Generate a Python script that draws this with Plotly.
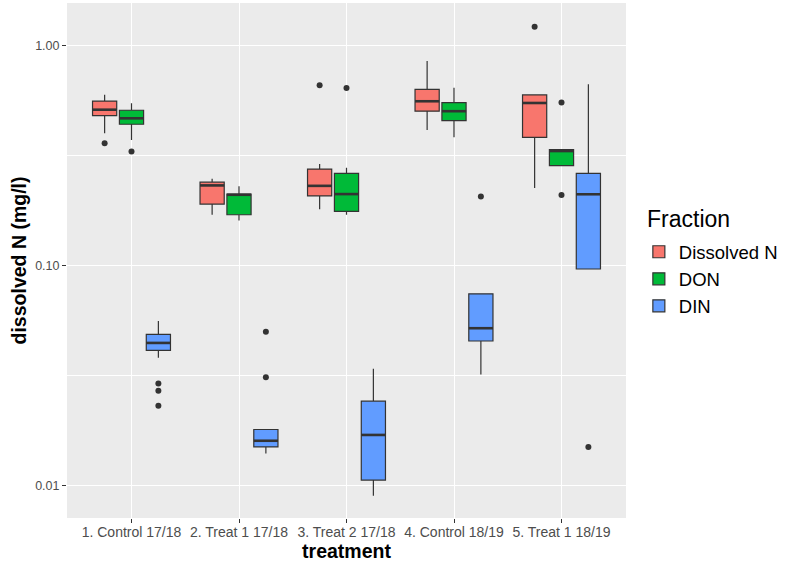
import plotly.graph_objects as go

categories = ["1. Control 17/18", "2. Treat 1 17/18", "3. Treat 2 17/18",
              "4. Control 18/19", "5. Treat 1 18/19"]
fractions = ["Dissolved N", "DON", "DIN"]
colors = ["#F8766D", "#00BA38", "#619CFF"]

# Box statistics per fraction, one value per treatment (mg/l)
dn_low = [0.399, 0.170, 0.180, 0.412, 0.225]
dn_q1 = [0.479, 0.190, 0.207, 0.502, 0.382]
dn_med = [0.510, 0.231, 0.230, 0.557, 0.547]
dn_q3 = [0.558, 0.239, 0.274, 0.631, 0.595]
dn_high = [0.597, 0.248, 0.289, 0.849, 0.595]

don_low = [0.371, 0.160, 0.170, 0.382, 0.284]
don_q1 = [0.438, 0.170, 0.176, 0.455, 0.284]
don_med = [0.466, 0.2095, 0.211, 0.502, 0.331]
don_q3 = [0.507, 0.211, 0.262, 0.549, 0.336]
don_high = [0.545, 0.229, 0.278, 0.642, 0.336]

din_low = [0.0381, 0.0140, 0.0090, 0.0320, 0.0964]
din_q1 = [0.0412, 0.0150, 0.0106, 0.0454, 0.0964]
din_med = [0.0445, 0.0160, 0.0170, 0.0519, 0.2106]
din_q3 = [0.0487, 0.0180, 0.0242, 0.0744, 0.262]
din_high = [0.0560, 0.0180, 0.0340, 0.0744, 0.665]

# Outliers: (treatment index, value)
dn_out = [(0, 0.359), (2, 0.658), (4, 1.215)]
don_out = [(0, 0.329), (2, 0.640), (4, 0.550), (4, 0.209)]
din_out = [(0, 0.0291), (0, 0.0270), (0, 0.0231), (1, 0.0500), (1, 0.0311),
           (3, 0.206), (4, 0.0150)]

y_ticks = [0.01, 0.1, 1.0]
y_ticktext = ["0.01", "0.10", "1.00"]
y_minor = [0.0316228, 0.316228]

stats = [
    (dn_low, dn_q1, dn_med, dn_q3, dn_high, dn_out),
    (don_low, don_q1, don_med, don_q3, don_high, don_out),
    (din_low, din_q1, din_med, din_q3, din_high, din_out),
]

dodge = [-0.25, 0.0, 0.25]
box_w = 0.225
line_col = "#333333"

fig = go.Figure()
for k, (name, col, st) in enumerate(zip(fractions, colors, stats)):
    low, q1, med, q3, high, outs = st
    xs = [i + 1 + dodge[k] for i in range(len(categories))]
    fig.add_trace(go.Box(
        name=name, x=xs, q1=q1, median=med, q3=q3,
        lowerfence=low, upperfence=high,
        width=box_w, fillcolor=col, whiskerwidth=0,
        line=dict(color=line_col, width=1.2),
        boxpoints=False, showlegend=True, hoverinfo="skip",
    ))
    # thicker median line (ggplot style)
    mx, my = [], []
    for x, m in zip(xs, med):
        mx += [x - box_w / 2, x + box_w / 2, None]
        my += [m, m, None]
    fig.add_trace(go.Scatter(x=mx, y=my, mode="lines",
                             line=dict(color=line_col, width=2.6),
                             showlegend=False, hoverinfo="skip"))
    fig.add_trace(go.Scatter(
        x=[o[0] + 1 + dodge[k] for o in outs], y=[o[1] for o in outs],
        mode="markers", marker=dict(color=line_col, size=6),
        showlegend=False, hoverinfo="skip"))

font_family = "Liberation Sans, Arial, sans-serif"
fig.update_layout(
    width=793, height=567,
    margin=dict(l=67, r=167, t=3, b=49),
    paper_bgcolor="white", plot_bgcolor="#EBEBEB",
    boxmode="overlay",
    font=dict(family=font_family, color="#4D4D4D"),
    legend=dict(
        font=dict(size=18.5, color="black"),
        x=1.023, xanchor="left", y=0.553, yanchor="top",
        bgcolor="rgba(0,0,0,0)", tracegroupgap=0,
    ),
    annotations=[dict(
        text="Fraction", xref="paper", yref="paper",
        x=1.034, y=0.5806, xanchor="left", yanchor="middle",
        showarrow=False, font=dict(size=23, color="black"),
    )],
    xaxis=dict(
        range=[0.4, 5.6], tickmode="array",
        tickvals=[i + 1 for i in range(len(categories))], ticktext=categories,
        showgrid=True, gridcolor="white", gridwidth=1.4, zeroline=False,
        ticks="outside", ticklen=4, tickcolor=line_col, tickwidth=1,
        tickfont=dict(size=14, color="#4D4D4D"), ticklabelstandoff=-3,
        title=dict(text="treatment", standoff=2,
                   font=dict(size=19.5, color="black", weight="bold")),
        automargin=False, showline=False,
    ),
    yaxis=dict(
        type="log", range=[-2.1467, 0.1921],
        tickmode="array", tickvals=y_ticks, ticktext=y_ticktext,
        showgrid=True, gridcolor="white", gridwidth=1.4, zeroline=False,
        ticks="outside", ticklen=4, tickcolor=line_col, tickwidth=1,
        tickfont=dict(size=12.5, color="#4D4D4D"),
        minor=dict(tickmode="array", tickvals=y_minor, showgrid=True,
                   gridcolor="white", gridwidth=0.7, ticks=""),
        title=dict(text="dissolved N (mg/l)", standoff=3,
                   font=dict(size=19.5, color="black", weight="bold")),
        automargin=False, showline=False,
    ),
)

fig.write_html("out.html")
